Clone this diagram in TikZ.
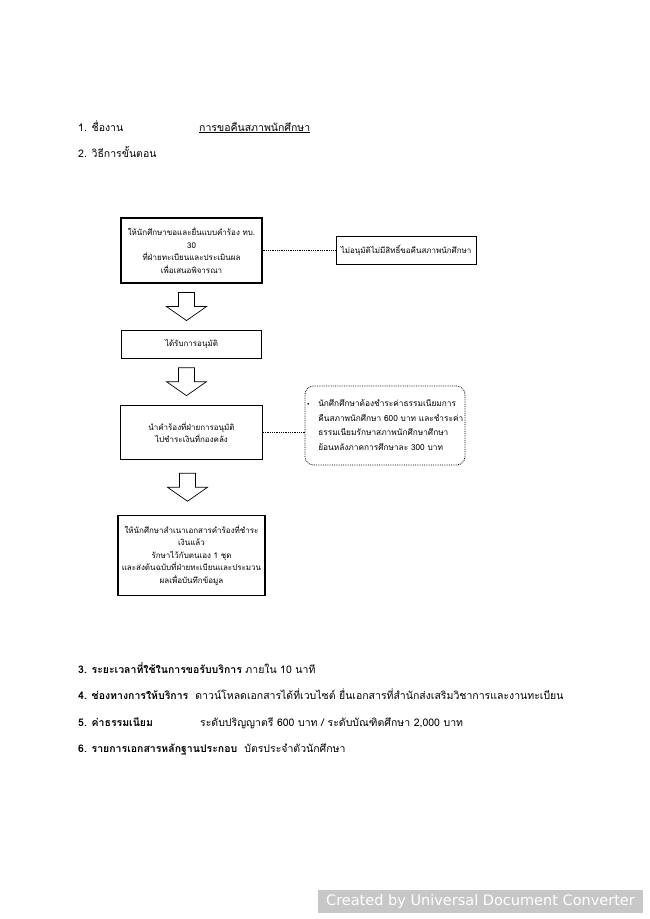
\documentclass[tikz,border=0pt]{standalone}
\usepackage{fontspec}
\setmainfont{Loma}[Script=Thai]
\newfontfamily\latinsans{DejaVu Sans}
\usepackage{tikz}
\usetikzlibrary{positioning,calc}
\definecolor{stampGray}{gray}{0.78}
\tikzset{
  stepbox/.style={rectangle, draw=black, line width=1.1pt, align=center, inner sep=2pt, font=\fontsize{8}{12.5}\selectfont},
  notebox/.style={rectangle, rounded corners=3mm, draw=black, densely dotted, line width=0.8pt, align=left, inner xsep=0pt, font=\fontsize{8.3}{14.5}\selectfont},
  item/.style={anchor=base west, inner sep=0pt, font=\fontsize{10.5}{13}\selectfont},
  link/.style={densely dotted, line width=0.8pt},
  downarrow/.pic={\draw[line width=0.7pt] (-8,-14) -- (-8,0) -- (-20,0) -- (0,14) -- (20,0) -- (8,0) -- (8,-14) -- cycle;}
}
\begin{document}
\begin{tikzpicture}[x=1pt, y=-1pt]
  \useasboundingbox (0,0) rectangle (650,919);
  \node[item] (name) at (78,131) {1. ชื่องาน};
  \node[item] (nameval) at (199,131) {\underline{การขอคืนสภาพนักศึกษา}};
  \node[item] (steps) at (78,157) {2. วิธีการขั้นตอน};

  \node[stepbox, minimum width=141pt, minimum height=65pt] (submit) at (191.5,250.5) {ให้นักศึกษาขอและยื่นแบบคำร้อง ทบ.\\30\\ที่ฝ่ายทะเบียนและประเมินผล\\เพื่อเสนอพิจารณา};
  \node[stepbox, minimum width=140pt, minimum height=28pt, right=73pt of submit] (reject) {ไม่อนุมัติไม่มีสิทธิ์ขอคืนสภาพนักศึกษา};
  \node[stepbox, minimum width=140pt, minimum height=28pt, below=46pt of submit] (approve) {ได้รับการอนุมัติ};
  \node[stepbox, minimum width=142pt, minimum height=54pt, below=46pt of approve] (pay) {นำคำร้องที่ฝ่ายการอนุมัติ\\ไปชำระเงินที่กองคลัง};
  \node[stepbox, minimum width=147pt, minimum height=80pt, below=55pt of pay] (copy) {ให้นักศึกษาสำเนาเอกสารคำร้องที่ชำระ\\เงินแล้ว\\รักษาไว้กับตนเอง 1 ชุด\\และส่งต้นฉบับที่ฝ่ายทะเบียนและประมวน\\ผลเพื่อบันทึกข้อมูล};
  \node[notebox, minimum width=160pt, minimum height=79pt] (note) at (385,425.5) {\begin{tabular}{@{}l@{\hspace{8pt}}l@{}}{\latinsans\fontsize{6}{6}\selectfont •} & นักศึกศึกษาต้องชำระค่าธรรมเนียมการ\\ & คืนสภาพนักศึกษา 600 บาท และชำระค่า\\ & ธรรมเนียมรักษาสภาพนักศึกษาศึกษา\\ & ย้อนหลังภาคการศึกษาละ 300 บาท\end{tabular}};

  \pic at ($(submit.south)!.5!(approve.north)+(-5,0)$) {downarrow};
  \pic at ($(approve.south)!.5!(pay.north)+(-5,0)$) {downarrow};
  \pic at ($(pay.south)!.5!(copy.north)+(-4,0)$) {downarrow};
  \draw[link] (submit.east) -- (reject.west);
  \draw[link] (pay.east) -- (pay.east -| note.west);

  \node[item] (duration) at (78,673) {\textbf{3. ระยะเวลาที่ใช้ในการขอรับบริการ} ภายใน 10 นาที};
  \node[item] (channel) at (78,699) {\textbf{4. ช่องทางการให้บริการ}\ \ ดาวน์โหลดเอกสารได้ที่เวบไซต์ ยื่นเอกสารที่สำนักส่งเสริมวิชาการและงานทะเบียน};
  \node[item] (fee) at (78,726) {\textbf{5. ค่าธรรมเนียม}};
  \node[item] (feeval) at (200,726) {ระดับปริญญาตรี 600 บาท / ระดับบัณฑิตศึกษา 2,000 บาท};
  \node[item] (docs) at (78,752) {\textbf{6. รายการเอกสารหลักฐานประกอบ}\ \ บัตรประจำตัวนักศึกษา};

  \node[fill=stampGray, text=white, inner sep=0pt, minimum width=325pt, minimum height=23pt, font=\latinsans\fontsize{14.5}{15}\selectfont] (stamp) at (480.5,901) {Created by Universal Document Converter};
\end{tikzpicture}
\end{document}
